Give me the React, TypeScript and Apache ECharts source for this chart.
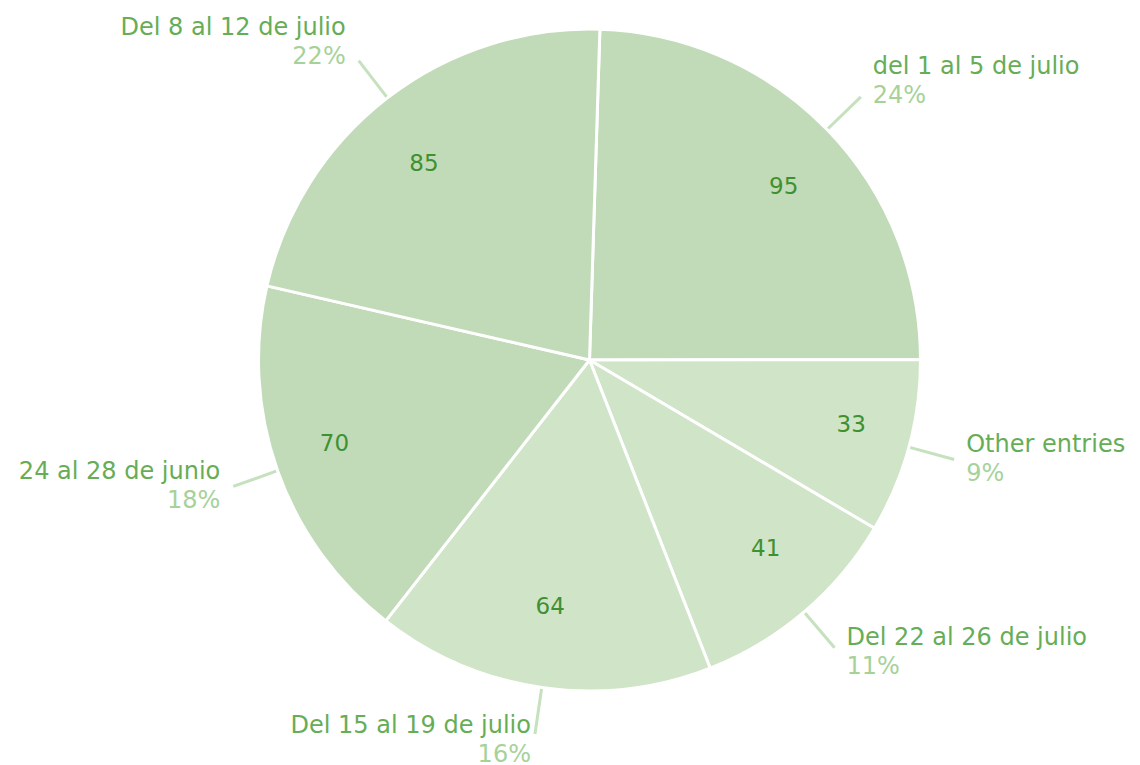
import React, { useEffect, useRef } from "react";
import * as echarts from "echarts";

const categories = [
  "del 1 al 5 de julio",
  "Other entries",
  "Del 22 al 26 de julio",
  "Del 15 al 19 de julio",
  "Del 24 al 28 de junio",
  "Del 8 al 12 de julio",
];
const values = [95, 33, 41, 64, 70, 85];
const sliceColors = ["#c1dbb8", "#d0e4c8", "#d0e4c8", "#d0e4c8", "#c1dbb8", "#c1dbb8"];

const FONT = "'DejaVu Sans', sans-serif";
const LEFT = 18;
const CX = 589.5 - LEFT;
const CY = 360;
const R = 331;
const START = 88.2;
const LINE_LEN = 47;

export default function App() {
  const ref = useRef<HTMLDivElement>(null);
  useEffect(() => {
    if (!ref.current) return;
    const chart = echarts.init(ref.current, null, { renderer: "svg" });
    const data = categories.map((name, i) => ({
      name,
      value: values[i],
      itemStyle: { color: sliceColors[i] },
    }));
    chart.setOption({
      animation: false,
      backgroundColor: "#ffffff",
      series: [
        {
          type: "pie",
          center: [CX, CY],
          radius: [0, R],
          startAngle: START,
          clockwise: true,
          avoidLabelOverlap: false,
          percentPrecision: 0,
          silent: true,
          itemStyle: { borderColor: "#ffffff", borderWidth: 3 },
          label: {
            show: true,
            position: "outside",
            distanceToLabelLine: 10,
            fontFamily: FONT,
            formatter: "{n|{b}}\n{p|{d}%}",
            rich: {
              n: { fontFamily: FONT, fontSize: 24, color: "#66ad56", lineHeight: 29 },
              p: { fontFamily: FONT, fontSize: 24, color: "#a6d29a", lineHeight: 29 },
            },
          },
          labelLine: {
            show: true,
            length: LINE_LEN,
            length2: 0,
            smooth: false,
            lineStyle: { color: "#c6e1bd", width: 3 },
          },
          labelLayout: (params: any) => {
            const pts = params.labelLinePoints;
            if (!pts) return {};
            const end = pts[pts.length - 1];
            const ex = end[0] - CX;
            const ey = CY - end[1];
            const len = Math.sqrt(ex * ex + ey * ey);
            const s = ey / len;
            const c = ex / len;
            const dy = s > 0 ? -24 * s : -4 - 10 * s;
            const dx = Math.abs(c) < 0.3 ? (c < 0 ? 6 : -6) : c < 0 ? -3 : 2;
            return { dx, dy, labelLinePoints: pts };
          },
          data,
        },
        {
          type: "pie",
          center: [CX, CY],
          radius: [190, R],
          startAngle: START,
          clockwise: true,
          silent: true,
          avoidLabelOverlap: false,
          itemStyle: { color: "rgba(0,0,0,0)", borderWidth: 0 },
          label: {
            show: true,
            position: "inside",
            formatter: "{c}",
            fontFamily: FONT,
            fontSize: 23,
            color: "#3f9030",
          },
          labelLine: { show: false },
          labelLayout: (params: any) => {
            const r = params.rect;
            const mx = r.x + r.width / 2;
            const my = r.y + r.height / 2;
            const nx = CX + (mx - CX) * 1.03;
            const ny = CY + (my - CY) * 0.94;
            return { dx: nx - mx, dy: ny - my };
          },
          data: categories.map((name, i) => ({ name, value: values[i] })),
        },
      ],
    });
    return () => chart.dispose();
  }, []);
  return (
    <div
      ref={ref}
      style={{
        position: "absolute",
        left: LEFT,
        top: 0,
        width: 1140 - LEFT,
        height: 765,
        overflow: "hidden",
      }}
    />
  );
}
